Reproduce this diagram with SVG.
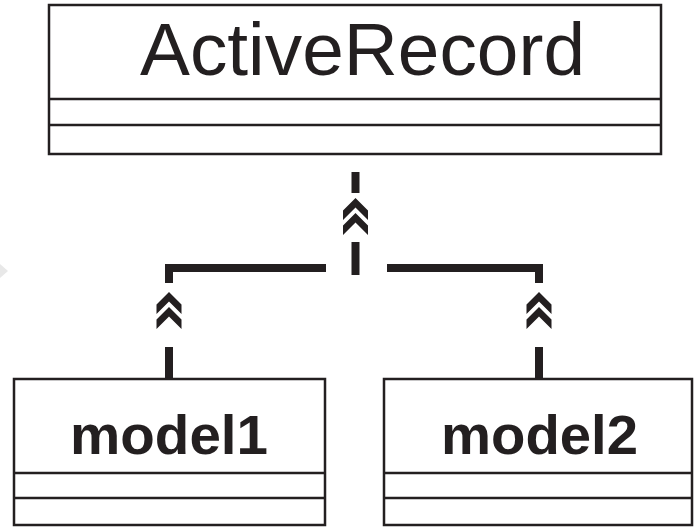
<svg xmlns="http://www.w3.org/2000/svg" width="698" height="529" viewBox="0 0 698 529">
  <style>
    .box { fill: #ffffff; stroke: #231f20; stroke-width: 2.5; }
    .sep { stroke: #231f20; stroke-width: 2.5; }
    .title { font-family: "Liberation Sans", Arial, Helvetica, sans-serif; fill: #231f20; }
    .conn { fill: none; stroke: #231f20; stroke-width: 8; stroke-linejoin: miter; stroke-linecap: butt; }
    .chev { fill: #231f20; }
  </style>
  <defs>
    <!-- double chevron generalization marker, apex at origin -->
    <g id="dchev">
      <polygon class="chev" points="0,0 12.5,12.5 12.5,22 0,9.5 -12.5,22 -12.5,12.5"/>
      <polygon class="chev" points="0,15 12.5,27.5 12.5,37 0,24.5 -12.5,37 -12.5,27.5"/>
    </g>
  </defs>

  <rect width="698" height="529" fill="#ffffff"/>
  <polygon points="0,264 8,271 0,278" fill="#e8e8e8"/>

  <g id="connectors">
    <!-- trunk to ActiveRecord -->
    <line class="conn" x1="355.5" y1="172" x2="355.5" y2="193"/>
    <use href="#dchev" x="355.5" y="198"/>
    <line class="conn" x1="355.5" y1="242" x2="355.5" y2="275"/>
    <!-- branch to model1 -->
    <polyline class="conn" points="169,283 169,268 326,268"/>
    <use href="#dchev" x="169" y="292"/>
    <line class="conn" x1="169" y1="347" x2="169" y2="379"/>
    <!-- branch to model2 -->
    <polyline class="conn" points="387,268 539,268 539,283"/>
    <use href="#dchev" x="539" y="292"/>
    <line class="conn" x1="539" y1="347" x2="539" y2="379"/>
  </g>

  <g id="activerecord">
    <rect class="box" x="49" y="5" width="612" height="149"/>
    <line class="sep" x1="49" y1="99" x2="661" y2="99"/>
    <line class="sep" x1="49" y1="125" x2="661" y2="125"/>
    <text class="title" x="140" y="75" font-size="74" textLength="445" lengthAdjust="spacingAndGlyphs">ActiveRecord</text>
  </g>

  <g id="model1">
    <rect class="box" x="14" y="379" width="311" height="146"/>
    <line class="sep" x1="14" y1="473" x2="325" y2="473"/>
    <line class="sep" x1="14" y1="498" x2="325" y2="498"/>
    <text class="title" x="70" y="454" font-size="56" font-weight="bold" textLength="198" lengthAdjust="spacingAndGlyphs">model1</text>
  </g>

  <g id="model2">
    <rect class="box" x="384" y="379" width="308" height="146"/>
    <line class="sep" x1="384" y1="473" x2="692" y2="473"/>
    <line class="sep" x1="384" y1="498" x2="692" y2="498"/>
    <text class="title" x="441" y="454" font-size="56" font-weight="bold" textLength="197" lengthAdjust="spacingAndGlyphs">model2</text>
  </g>
</svg>
